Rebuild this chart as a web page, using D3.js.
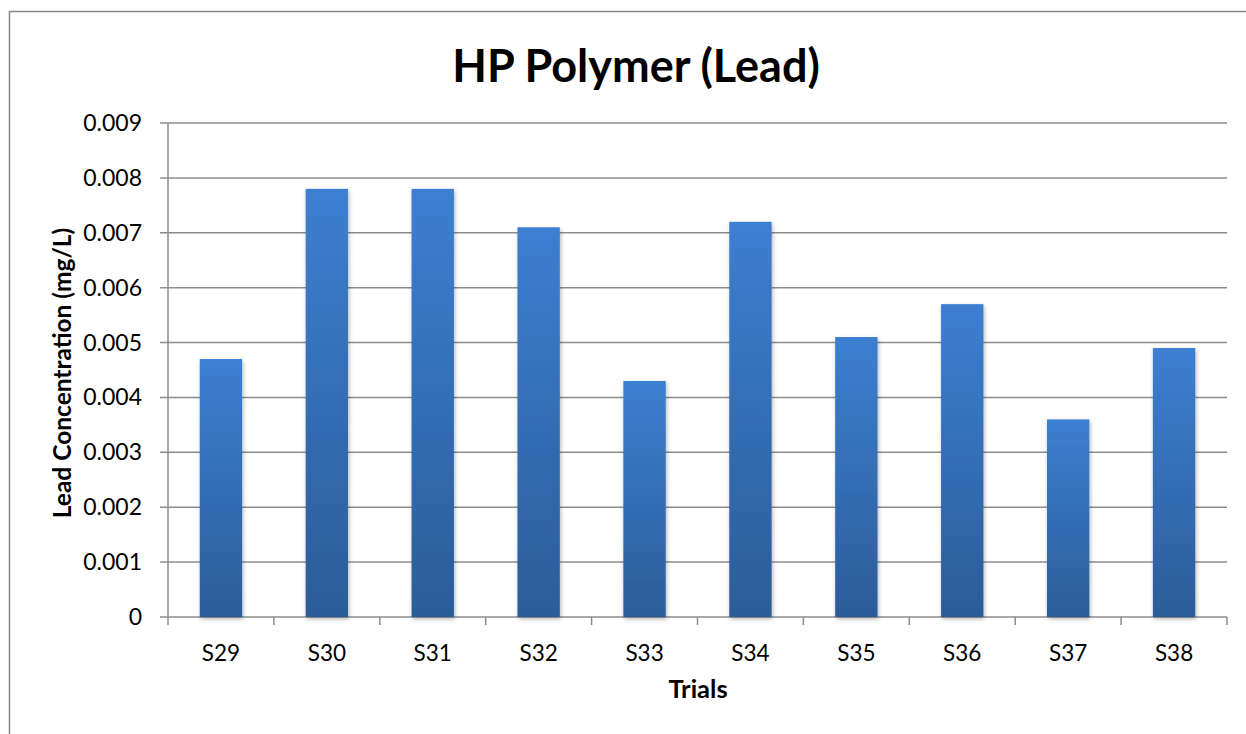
<!DOCTYPE html>
<meta charset="utf-8">
<title>HP Polymer (Lead)</title>
<body>
<script src="https://cdn.jsdelivr.net/npm/d3@7"></script>
<style>
html, body {
    margin: 0;
    background: #fff;
}
svg {
    display: block;
    font-family: Lato, "Open Sans", sans-serif;
}
</style>
<script>
var trials = ["S29", "S30", "S31", "S32", "S33", "S34", "S35", "S36", "S37", "S38"],
    lead = [0.0047, 0.0078, 0.0078, 0.0071, 0.0043, 0.0072, 0.0051, 0.0057, 0.0036, 0.0049],
    yTicks = [0, 0.001, 0.002, 0.003, 0.004, 0.005, 0.006, 0.007, 0.008, 0.009];

var width = 1246,
    height = 734,
    margin = { top: 123, right: 19, bottom: 117, left: 168 };

var svg = d3.select("body").append("svg")
    .attr("width", width)
    .attr("height", height);

var defs = svg.append("defs");
var grad = defs.append("linearGradient")
    .attr("id", "barGrad")
    .attr("x1", 0).attr("y1", 0).attr("x2", 0).attr("y2", 1);
grad.append("stop").attr("offset", "0%").attr("stop-color", "#3c7fd1");
grad.append("stop").attr("offset", "100%").attr("stop-color", "#2c5c99");

var shadow = defs.append("filter")
    .attr("id", "shadow")
    .attr("x", "-20%").attr("y", "-5%").attr("width", "140%").attr("height", "110%");
shadow.append("feDropShadow")
    .attr("dx", 1).attr("dy", 2).attr("stdDeviation", 2)
    .attr("flood-color", "#000").attr("flood-opacity", 0.3);

// outer chart border
svg.append("rect")
    .attr("x", 9.5).attr("y", 11.5)
    .attr("width", width).attr("height", height)
    .attr("fill", "none")
    .attr("stroke", "#868686")
    .attr("stroke-width", 1.5);

var x = d3.scaleBand()
    .domain(trials)
    .range([margin.left, width - margin.right])
    .paddingInner(0.6)
    .paddingOuter(0.3);

var y = d3.scaleLinear()
    .domain([0, 0.009])
    .range([height - margin.bottom, margin.top]);

// gridlines
svg.append("g")
    .selectAll("line")
    .data(yTicks)
    .enter().append("line")
    .attr("x1", margin.left - 8)
    .attr("x2", width - margin.right)
    .attr("y1", function(d) { return y(d); })
    .attr("y2", function(d) { return y(d); })
    .attr("stroke", "#8c8c8c")
    .attr("stroke-width", 1.5);

// y tick labels
svg.append("g")
    .selectAll("text")
    .data(yTicks)
    .enter().append("text")
    .attr("x", margin.left - 26)
    .attr("y", function(d) { return y(d); })
    .attr("dy", "0.35em")
    .attr("text-anchor", "end")
    .attr("font-size", 23)
    .attr("fill", "#000")
    .text(function(d) { return d === 0 ? "0" : d3.format(".3f")(d); });

// bars
svg.append("g")
    .selectAll("rect")
    .data(lead)
    .enter().append("rect")
    .attr("x", function(d, i) { return x(trials[i]); })
    .attr("y", function(d) { return y(d); })
    .attr("width", x.bandwidth())
    .attr("height", function(d) { return y(0) - y(d); })
    .attr("fill", "url(#barGrad)")
    .attr("filter", "url(#shadow)");

// y axis line
svg.append("line")
    .attr("x1", margin.left).attr("x2", margin.left)
    .attr("y1", margin.top).attr("y2", y(0))
    .attr("stroke", "#8c8c8c")
    .attr("stroke-width", 1.5);

// x axis ticks at category boundaries
var plotW = width - margin.right - margin.left;
svg.append("g")
    .selectAll("line")
    .data(d3.range(trials.length + 1))
    .enter().append("line")
    .attr("x1", function(i) { return margin.left + i * plotW / trials.length; })
    .attr("x2", function(i) { return margin.left + i * plotW / trials.length; })
    .attr("y1", y(0))
    .attr("y2", y(0) + 8)
    .attr("stroke", "#8c8c8c")
    .attr("stroke-width", 1.5);

svg.append("g")
    .selectAll("text")
    .data(trials)
    .enter().append("text")
    .attr("x", function(d) { return x(d) + x.bandwidth() / 2; })
    .attr("y", y(0) + 44)
    .attr("text-anchor", "middle")
    .attr("font-size", 22.5)
    .attr("fill", "#000")
    .text(function(d) { return d; });

// titles
svg.append("text")
    .attr("x", 636)
    .attr("y", 82)
    .attr("text-anchor", "middle")
    .attr("font-size", 45)
    .attr("font-weight", "bold")
    .text("HP Polymer (Lead)");

svg.append("text")
    .attr("x", 698)
    .attr("y", 698)
    .attr("text-anchor", "middle")
    .attr("font-size", 25.5)
    .attr("font-weight", "bold")
    .text("Trials");

svg.append("text")
    .attr("transform", "translate(71,373) rotate(-90)")
    .attr("text-anchor", "middle")
    .attr("font-size", 24.5)
    .attr("font-weight", "bold")
    .text("Lead Concentration (mg/L)");
</script>
